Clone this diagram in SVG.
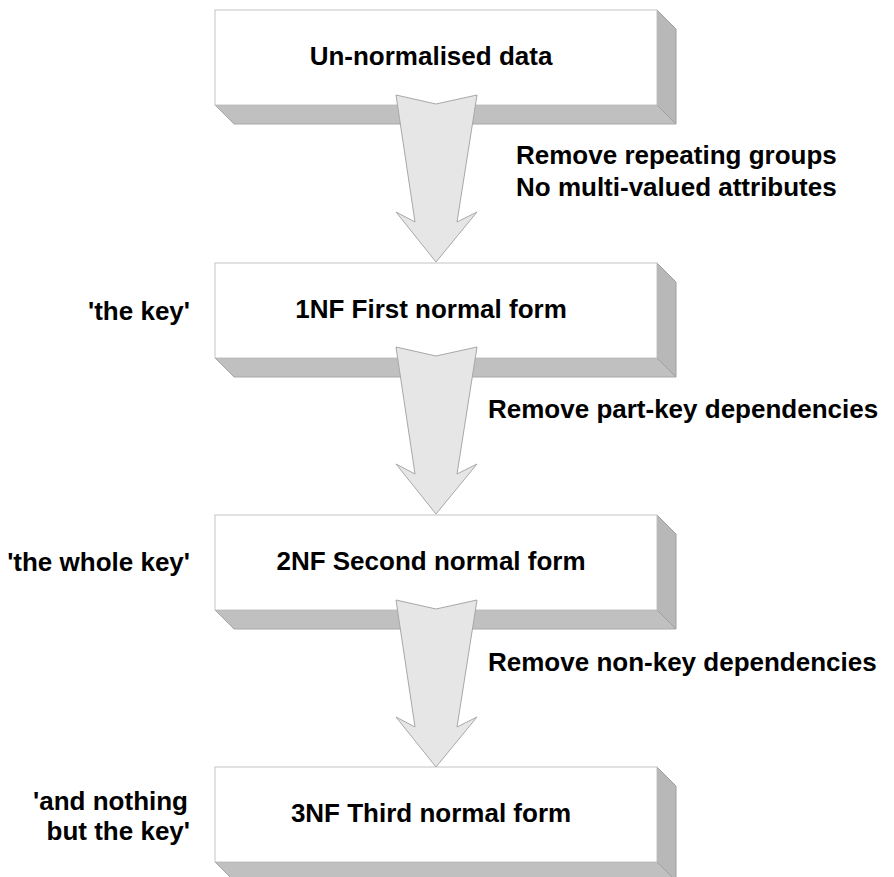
<svg xmlns="http://www.w3.org/2000/svg" width="894" height="877" viewBox="0 0 894 877">
<defs>
<style>
.front{fill:#ffffff;stroke:#c4c4c4;stroke-width:1}
.bottom{fill:#c0c0c0;stroke:#a8a8a8;stroke-width:1}
.side{fill:#b8b8b8;stroke:#a0a0a0;stroke-width:1}
.arrow{fill:#e6e6e6;stroke:#a8a8a8;stroke-width:1}
text{font-family:"Liberation Sans",Arial,sans-serif;font-weight:bold;font-size:26px;fill:#000}
.c{text-anchor:middle}
.e{text-anchor:end}
</style>
<g id="box">
<polygon class="bottom" points="215,105 657,105 676,124 234,124"/>
<polygon class="side" points="657,10 676,29 676,124 657,105"/>
<rect class="front" x="215" y="10" width="442" height="95"/>
</g>
<polygon id="arr" class="arrow" points="396,95 436,104 477,95 457,222 477,212 436,262 396,212 415,222"/>
</defs>
<rect width="894" height="877" fill="#ffffff"/>
<g id="node-unnormalised">
<use href="#box"/>
<text class="c" x="431" y="65">Un-normalised data</text>
</g>
<g id="node-1nf">
<use href="#box" transform="translate(0,253)"/>
<text class="c" x="431" y="318">1NF First normal form</text>
</g>
<g id="node-2nf">
<use href="#box" transform="translate(0,505)"/>
<text class="c" x="431" y="570">2NF Second normal form</text>
</g>
<g id="node-3nf">
<use href="#box" transform="translate(0,757)"/>
<text class="c" x="431" y="822">3NF Third normal form</text>
</g>
<g id="connectors">
<use href="#arr"/>
<use href="#arr" transform="translate(0,252)"/>
<use href="#arr" transform="translate(0,505)"/>
</g>
<g id="labels">
<text x="516" y="164">Remove repeating groups</text>
<text x="516" y="196">No multi-valued attributes</text>
<text x="488" y="418">Remove part-key dependencies</text>
<text x="488" y="671">Remove non-key dependencies</text>
<text class="e" x="190" y="320">'the key'</text>
<text class="e" x="190" y="571">'the whole key'</text>
<text class="e" x="188" y="810">'and nothing</text>
<text class="e" x="190" y="840">but the key'</text>
</g>
</svg>
